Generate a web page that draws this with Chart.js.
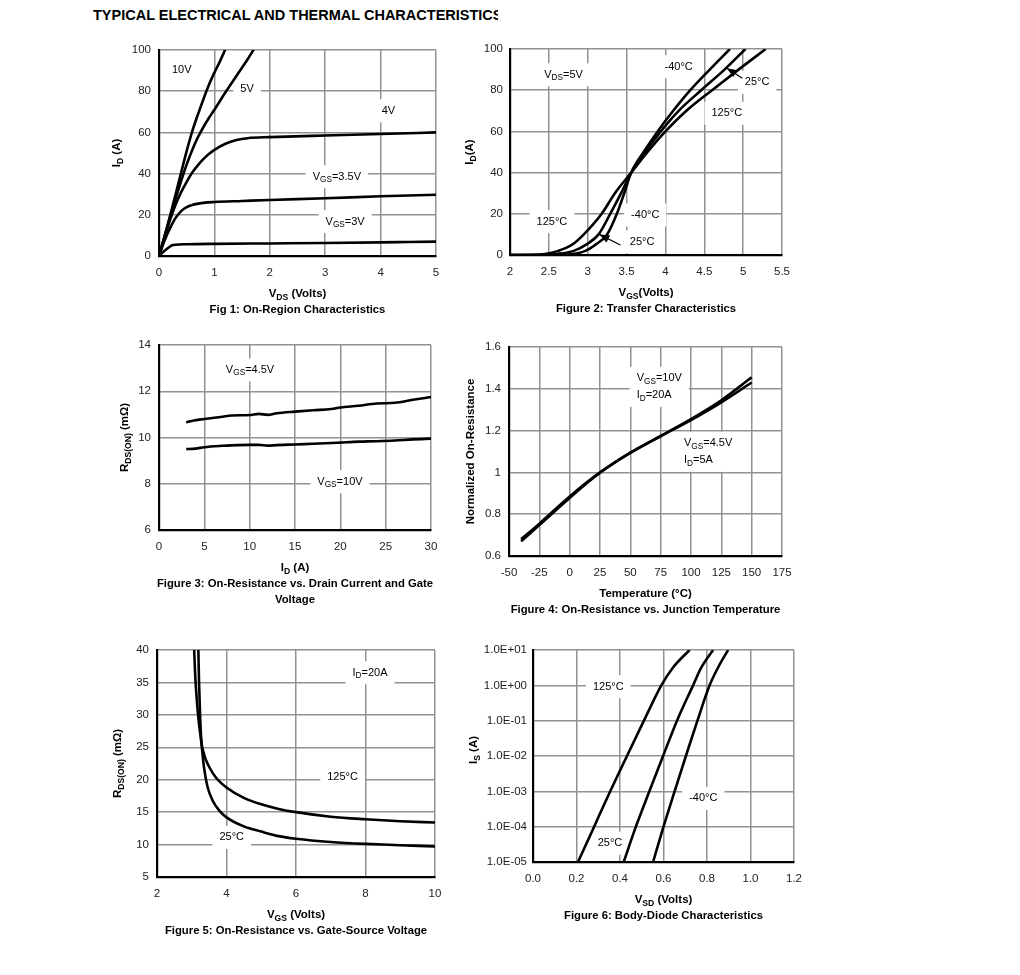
<!DOCTYPE html>
<html>
<head>
<meta charset="utf-8">
<script src="https://cdn.jsdelivr.net/npm/chart.js@4.4.1/dist/chart.umd.min.js"></script>
<style>
  body { margin: 0; background: #fff; }
  #page { position: relative; width: 1020px; height: 975px; overflow: hidden; background: #fff; }
  #page canvas { position: absolute; left: 0; top: 0; }
  #title { position: absolute; left: 93px; top: 7px; width: 405px; overflow: hidden; white-space: nowrap;
           font: bold 14.5px "Liberation Sans", Arial, sans-serif; color: #000; }
</style>
</head>
<body>
<div id="page">
  <div id="title">TYPICAL ELECTRICAL AND THERMAL CHARACTERISTICS</div>
  <canvas id="fig1" width="1020" height="975"></canvas>
  <canvas id="fig2" width="1020" height="975"></canvas>
  <canvas id="fig3" width="1020" height="975"></canvas>
  <canvas id="fig4" width="1020" height="975"></canvas>
  <canvas id="fig5" width="1020" height="975"></canvas>
  <canvas id="fig6" width="1020" height="975"></canvas>
</div>
<script>
// ---- Fig 1: On-Region Characteristics (ID vs VDS) ----
const f1_vds_10V = [0, 0.1, 0.2, 0.3, 0.4, 0.5, 0.6, 0.7, 0.8, 0.9, 1.0, 1.1, 1.2];
const f1_id_10V  = [0, 9.5, 19.5, 30, 40.5, 51, 60.5, 68.5, 76, 83, 89, 94.5, 100.5];
const f1_vds_5V  = [0, 0.1, 0.2, 0.3, 0.4, 0.5, 0.6, 0.7, 0.8, 0.9, 1.0, 1.2, 1.4, 1.6, 1.75];
const f1_id_5V   = [0, 9.5, 19, 28, 36.5, 44.5, 51.5, 57.5, 62.5, 67, 71, 79.5, 87.5, 95.5, 102];
const f1_vds_4V  = [0, 0.1, 0.2, 0.3, 0.4, 0.5, 0.6, 0.7, 0.8, 0.9, 1.0, 1.2, 1.4, 1.6, 2, 3, 4, 5];
const f1_id_4V   = [0, 9, 17.5, 25, 31, 36, 40.5, 44, 47, 49.5, 51.5, 54.5, 56.3, 57.2, 57.7, 58.5, 59.2, 60];
const f1_vds_35V = [0, 0.1, 0.2, 0.3, 0.4, 0.5, 0.6, 0.8, 1, 1.5, 2, 3, 4, 5];
const f1_id_35V  = [0, 7.5, 13.5, 18.5, 21.8, 23.7, 24.8, 25.8, 26.2, 26.7, 27.2, 28, 29, 29.7];
const f1_vds_3V  = [0, 0.1, 0.2, 0.25, 0.3, 0.5, 1, 2, 3, 4, 4.5, 5];
const f1_id_3V   = [0, 2.5, 4.6, 5.3, 5.5, 5.7, 5.9, 6.1, 6.3, 6.6, 6.8, 7];
const f1_xticks = [0, 1, 2, 3, 4, 5];
const f1_yticks = [0, 20, 40, 60, 80, 100];

// ---- Fig 2: Transfer Characteristics (ID vs VGS) ----
const f2_vgs_m40 = [2, 2.5, 2.8, 2.97, 3.1, 3.25, 3.375, 3.47, 3.56, 3.72, 3.9, 4.1, 4.32, 4.57, 4.83];
const f2_id_m40  = [0, 0, 0.5, 2, 5, 10, 20, 30, 40, 50, 60, 70, 80, 90, 100];
const f2_vgs_25  = [2, 2.4, 2.6, 2.82, 3.0, 3.14, 3.29, 3.43, 3.56, 3.74, 3.94, 4.17, 4.46, 4.76, 5.03];
const f2_id_25   = [0, 0, 0.5, 2, 5.5, 10, 20, 30, 40, 50, 60, 70, 80, 90, 100];
const f2_vgs_125 = [2, 2.3, 2.45, 2.62, 2.8, 2.95, 3.18, 3.35, 3.56, 3.77, 4.0, 4.27, 4.6, 4.94, 5.29];
const f2_id_125  = [0, 0.1, 0.5, 2, 5, 10, 20, 30, 40, 50, 60, 70, 80, 90, 100];
const f2_xticks = [2, 2.5, 3, 3.5, 4, 4.5, 5, 5.5];
const f2_yticks = [0, 20, 40, 60, 80, 100];

// ---- Fig 3: RDS(ON) vs ID ----
const f3_id     = [3, 4, 5, 7, 8, 10, 11, 12, 13, 15, 17, 19, 20, 22, 24, 26, 28, 30];
const f3_r_45V  = [10.66, 10.75, 10.8, 10.9, 10.95, 10.97, 11.02, 10.98, 11.05, 11.12, 11.18, 11.23, 11.3, 11.37, 11.47, 11.5, 11.63, 11.75];
const f3_r_10V  = [9.5, 9.52, 9.58, 9.64, 9.66, 9.68, 9.68, 9.65, 9.67, 9.7, 9.73, 9.76, 9.78, 9.82, 9.84, 9.87, 9.92, 9.95];
const f3_xticks = [0, 5, 10, 15, 20, 25, 30];
const f3_yticks = [6, 8, 10, 12, 14];

// ---- Fig 4: Normalized RDS(ON) vs Temperature ----
const f4_temp   = [-40, -25, 0, 25, 50, 75, 100, 125, 150];
const f4_r_10V  = [0.68, 0.755, 0.885, 1.0, 1.095, 1.175, 1.255, 1.345, 1.455];
const f4_r_45V  = [0.67, 0.748, 0.878, 0.998, 1.093, 1.173, 1.25, 1.335, 1.43];
const f4_xticks = [-50, -25, 0, 25, 50, 75, 100, 125, 150, 175];
const f4_yticks = [0.6, 0.8, 1, 1.2, 1.4, 1.6];

// ---- Fig 5: RDS(ON) vs VGS ----
const f5_vgs_25  = [3.07, 3.1, 3.15, 3.2, 3.27, 3.35, 3.45, 3.6, 3.8, 4, 4.5, 5, 5.5, 6, 7, 8, 9, 10];
const f5_r_25    = [40, 36, 32, 29, 26, 22, 19, 16.8, 15.2, 14.2, 12.8, 12.0, 11.3, 10.9, 10.4, 10.1, 9.9, 9.7];
const f5_vgs_125 = [3.19, 3.21, 3.24, 3.27, 3.35, 3.5, 3.7, 4, 4.5, 5, 5.5, 6, 7, 8, 9, 10];
const f5_r_125   = [40, 35, 30, 26.5, 24, 22, 20.3, 18.8, 17.2, 16.2, 15.5, 15.0, 14.3, 13.9, 13.6, 13.4];
const f5_xticks = [2, 4, 6, 8, 10];
const f5_yticks = [5, 10, 15, 20, 25, 30, 35, 40];

// ---- Fig 6: Body-Diode Characteristics (IS vs VSD) ----
const f6_is      = [1e-5, 1e-4, 1e-3, 1e-2, 1e-1, 1, 3.2, 10];
const f6_vsd_125 = [0.207, 0.281, 0.355, 0.432, 0.510, 0.590, 0.644, 0.72];
const f6_vsd_25  = [0.417, 0.473, 0.535, 0.598, 0.662, 0.736, 0.774, 0.828];
const f6_vsd_m40 = [0.552, 0.600, 0.651, 0.703, 0.756, 0.812, 0.851, 0.897];
const f6_xticks = [0, 0.2, 0.4, 0.6, 0.8, 1.0, 1.2];
const f6_yticks = [1e-5, 1e-4, 1e-3, 1e-2, 1e-1, 1, 10];

// ---------------------------------------------------------
const W = 1020, H = 975;
const FONT = '"Liberation Sans", Arial, sans-serif';
Chart.defaults.font.family = FONT;
Chart.defaults.font.size = 11.5;
Chart.defaults.color = '#222';

// "V_{GS}=5V" -> [[text, isSub], ...]
function splitRich(str) {
  const out = [], re = /_\{([^}]*)\}/g;
  let last = 0, m;
  while ((m = re.exec(str))) {
    if (m.index > last) out.push([str.slice(last, m.index), false]);
    out.push([m[1], true]);
    last = re.lastIndex;
  }
  if (last < str.length) out.push([str.slice(last), false]);
  return out;
}
const fnt = (size, bold) => (bold ? 'bold ' : '') + size + 'px ' + FONT;
function richWidth(ctx, str, size, bold) {
  let w = 0;
  for (const [t, sub] of splitRich(str)) {
    ctx.font = fnt(sub ? size * 0.75 : size, bold);
    w += ctx.measureText(t).width;
  }
  return w;
}
function drawRich(ctx, str, x, y, size, bold, align) {
  const w = richWidth(ctx, str, size, bold);
  let cx = align === 'left' ? x : x - w / 2;
  ctx.textAlign = 'left';
  ctx.textBaseline = 'middle';
  for (const [t, sub] of splitRich(str)) {
    ctx.font = fnt(sub ? size * 0.75 : size, bold);
    ctx.fillText(t, cx, sub ? y + size * 0.28 : y);
    cx += ctx.measureText(t).width;
  }
}

const fmt = v => String(Math.round(v * 1000) / 1000);

// labels, arrows, axis titles and caption
function panelPlugin(p) {
  return {
    id: 'panel',
    beforeDatasetsDraw(chart) {
      const ctx = chart.ctx, xs = chart.scales.x, ys = chart.scales.y;
      ctx.save();
      for (const n of p.notes) {
        const px = xs.getPixelForValue(n.x), py = ys.getPixelForValue(n.y);
        const lines = n.text.split('\n'), lh = 17;
        const w = Math.max(...lines.map(l => richWidth(ctx, l, 11, false)));
        const left = n.align === 'left' ? px : px - w / 2;
        ctx.fillStyle = '#fff';
        ctx.fillRect(left - 7, py - lh / 2 - 3, w + 14, lines.length * lh + 6);
        ctx.fillStyle = '#000';
        lines.forEach((l, i) => drawRich(ctx, l, px, py + i * lh, 11, false, n.align));
      }
      ctx.restore();
    },
    afterDraw(chart) {
      const ctx = chart.ctx, xs = chart.scales.x, ys = chart.scales.y, a = chart.chartArea;
      ctx.save();
      ctx.strokeStyle = '#000';
      ctx.fillStyle = '#000';
      ctx.lineWidth = 1.2;
      for (const ar of (p.arrows || [])) {
        const x1 = xs.getPixelForValue(ar.from[0]), y1 = ys.getPixelForValue(ar.from[1]);
        const x2 = xs.getPixelForValue(ar.to[0]), y2 = ys.getPixelForValue(ar.to[1]);
        const ang = Math.atan2(y2 - y1, x2 - x1);
        ctx.beginPath(); ctx.moveTo(x1, y1); ctx.lineTo(x2, y2); ctx.stroke();
        ctx.beginPath();
        ctx.moveTo(x2, y2);
        ctx.lineTo(x2 - 10 * Math.cos(ang) + 4 * Math.sin(ang), y2 - 10 * Math.sin(ang) - 4 * Math.cos(ang));
        ctx.lineTo(x2 - 10 * Math.cos(ang) - 4 * Math.sin(ang), y2 - 10 * Math.sin(ang) + 4 * Math.cos(ang));
        ctx.closePath(); ctx.fill();
      }
      const cx = (a.left + a.right) / 2;
      drawRich(ctx, p.xTitle, cx, a.bottom + 38, 11.5, true, 'center');
      p.caption.forEach((c, i) => drawRich(ctx, c, cx, a.bottom + 54 + i * 16, 11.3, true, 'center'));
      ctx.translate(a.left - p.yTitleOff, (a.top + a.bottom) / 2 + (p.yTitleDy || 0));
      ctx.rotate(-Math.PI / 2);
      drawRich(ctx, p.yTitle, 0, 0, 11.5, true, 'center');
      ctx.restore();
    }
  };
}

function axis(p, which) {
  const isX = which === 'x';
  const ticks = isX ? p.xTicks : p.yTicks;
  return {
    type: isX ? 'linear' : (p.yType || 'linear'),
    min: ticks[0],
    max: ticks[ticks.length - 1],
    afterFit: s => { if (isX) s.height = H - p.area.bottom; else s.width = p.area.left; },
    afterBuildTicks: s => { s.ticks = ticks.map(v => ({ value: v })); },
    grid: { color: '#929292', lineWidth: 1.5, drawTicks: false },
    border: { color: '#000', width: 2.2, z: 1 },
    ticks: {
      padding: isX ? 10 : (p.yPad || 8),
      color: '#222',
      font: { size: 11.5 },
      autoSkip: false,
      maxRotation: 0,
      callback: (isX ? p.xFmt : p.yFmt) || fmt
    }
  };
}

function makePanel(id, p) {
  new Chart(document.getElementById(id), {
    type: 'line',
    data: {
      datasets: p.series.map(s => ({
        data: s.x.map((v, i) => ({ x: v, y: s.y[i] })),
        borderColor: '#000',
        borderWidth: 2.6,
        pointRadius: 0,
        fill: false,
        cubicInterpolationMode: 'monotone'
      }))
    },
    options: {
      responsive: false,
      animation: false,
      devicePixelRatio: 1,
      events: [],
      layout: { padding: { left: 0, bottom: 0, top: p.area.top, right: W - p.area.right } },
      plugins: { legend: { display: false }, tooltip: { enabled: false } },
      scales: { x: axis(p, 'x'), y: axis(p, 'y') }
    },
    plugins: [panelPlugin(p)]
  });
}

makePanel('fig1', {
  area: { left: 159, right: 436, top: 50, bottom: 256 },
  xTicks: f1_xticks, yTicks: f1_yticks,
  series: [
    { x: f1_vds_10V, y: f1_id_10V }, { x: f1_vds_5V, y: f1_id_5V }, { x: f1_vds_4V, y: f1_id_4V },
    { x: f1_vds_35V, y: f1_id_35V }, { x: f1_vds_3V, y: f1_id_3V }
  ],
  notes: [
    { x: 0.41, y: 90.3, text: '10V' },
    { x: 1.59, y: 81, text: '5V' },
    { x: 4.14, y: 70.5, text: '4V' },
    { x: 3.21, y: 38.5, text: 'V_{GS}=3.5V' },
    { x: 3.36, y: 16.7, text: 'V_{GS}=3V' }
  ],
  xTitle: 'V_{DS} (Volts)', yTitle: 'I_{D} (A)', yTitleOff: 42,
  caption: ['Fig 1: On-Region Characteristics']
});

makePanel('fig2', {
  area: { left: 510, right: 782, top: 49, bottom: 255 },
  xTicks: f2_xticks, yTicks: f2_yticks, yPad: 7,
  series: [
    { x: f2_vgs_m40, y: f2_id_m40 }, { x: f2_vgs_25, y: f2_id_25 }, { x: f2_vgs_125, y: f2_id_125 }
  ],
  notes: [
    { x: 2.69, y: 87.5, text: 'V_{DS}=5V' },
    { x: 4.17, y: 91.4, text: '-40°C' },
    { x: 5.18, y: 83.8, text: '25°C' },
    { x: 4.79, y: 68.8, text: '125°C' },
    { x: 2.54, y: 16.2, text: '125°C' },
    { x: 3.74, y: 19.4, text: '-40°C' },
    { x: 3.70, y: 6.5, text: '25°C' }
  ],
  arrows: [
    { from: [4.99, 85.8], to: [4.79, 90.6] },
    { from: [3.42, 4.85], to: [3.15, 10.0] }
  ],
  xTitle: 'V_{GS}(Volts)', yTitle: 'I_{D}(A)', yTitleOff: 40,
  caption: ['Figure 2: Transfer Characteristics']
});

makePanel('fig3', {
  area: { left: 159, right: 431, top: 345, bottom: 530 },
  xTicks: f3_xticks, yTicks: f3_yticks,
  series: [{ x: f3_id, y: f3_r_45V }, { x: f3_id, y: f3_r_10V }],
  notes: [
    { x: 10.04, y: 12.92, text: 'V_{GS}=4.5V' },
    { x: 19.96, y: 8.09, text: 'V_{GS}=10V' }
  ],
  xTitle: 'I_{D} (A)', yTitle: 'R_{DS(ON)} (mΩ)', yTitleOff: 34,
  caption: ['Figure 3: On-Resistance vs. Drain Current and Gate', 'Voltage']
});

makePanel('fig4', {
  area: { left: 509, right: 782, top: 347, bottom: 556 },
  xTicks: f4_xticks, yTicks: f4_yticks,
  series: [{ x: f4_temp, y: f4_r_10V }, { x: f4_temp, y: f4_r_45V }],
  notes: [
    { x: 55.2, y: 1.45, text: 'V_{GS}=10V\nI_{D}=20A', align: 'left' },
    { x: 94.2, y: 1.139, text: 'V_{GS}=4.5V\nI_{D}=5A', align: 'left' }
  ],
  xTitle: 'Temperature (°C)', yTitle: 'Normalized On-Resistance', yTitleOff: 38,
  caption: ['Figure 4: On-Resistance vs. Junction Temperature']
});

makePanel('fig5', {
  area: { left: 157, right: 435, top: 650, bottom: 877 },
  xTicks: f5_xticks, yTicks: f5_yticks,
  series: [{ x: f5_vgs_25, y: f5_r_25 }, { x: f5_vgs_125, y: f5_r_125 }],
  notes: [
    { x: 8.13, y: 36.5, text: 'I_{D}=20A' },
    { x: 7.34, y: 20.4, text: '125°C' },
    { x: 4.15, y: 11.1, text: '25°C' }
  ],
  xTitle: 'V_{GS} (Volts)', yTitle: 'R_{DS(ON)} (mΩ)', yTitleOff: 39,
  caption: ['Figure 5: On-Resistance vs. Gate-Source Voltage']
});

makePanel('fig6', {
  area: { left: 533, right: 794, top: 650, bottom: 862 },
  xTicks: f6_xticks, yTicks: f6_yticks, yType: 'logarithmic', yPad: 6, yTitleDy: -6,
  xFmt: v => v.toFixed(1),
  yFmt: v => {
    const e = Math.round(Math.log10(v));
    return '1.0E' + (e < 0 ? '-' : '+') + String(Math.abs(e)).padStart(2, '0');
  },
  series: [{ x: f6_vsd_125, y: f6_is }, { x: f6_vsd_25, y: f6_is }, { x: f6_vsd_m40, y: f6_is }],
  notes: [
    { x: 0.346, y: 0.914, text: '125°C' },
    { x: 0.354, y: 3.4e-5, text: '25°C' },
    { x: 0.783, y: 6.3e-4, text: '-40°C' }
  ],
  xTitle: 'V_{SD} (Volts)', yTitle: 'I_{S} (A)', yTitleOff: 59,
  caption: ['Figure 6: Body-Diode Characteristics']
});
</script>
</body>
</html>
